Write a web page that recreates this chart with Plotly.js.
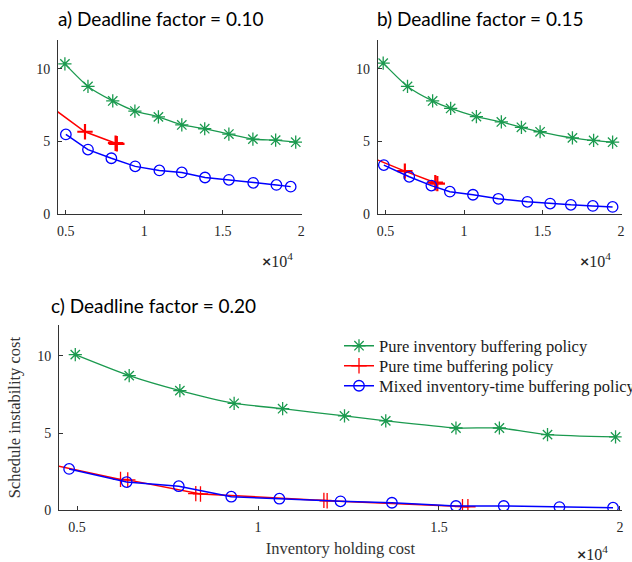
<!DOCTYPE html>
<html>
<head>
<meta charset="utf-8">
<script src="https://cdn.plot.ly/plotly-3.0.1.min.js"></script>
<style>html,body{margin:0;padding:0;background:#fff;}#chart{width:632px;height:562px;}</style>
</head>
<body>
<div id="chart"></div>
<script>
// ---- data (inventory holding cost on x, schedule instability cost on y) ----
const seriesNames = ['Pure inventory buffering policy', 'Pure time buffering policy', 'Mixed inventory-time buffering policy'];
const panelTitles = ['a) Deadline factor = 0.10', 'b) Deadline factor = 0.15', 'c) Deadline factor = 0.20'];
const xTickVals = [5000, 10000, 15000, 20000];
const xTickText = ['0.5', '1', '1.5', '2'];
const yTickVals = [0, 5, 10];

// panel a (deadline factor 0.10)
const aInvX = [4940, 6410, 7990, 9400, 10900, 12390, 13850, 15390, 16920, 18370, 19650];
const aInvY = [10.35, 8.79, 7.79, 7.09, 6.69, 6.13, 5.87, 5.50, 5.15, 5.08, 4.94];
const aTimeX = [4000, 6220, 8170, 8250];
const aTimeY = [7.42, 5.66, 4.87, 4.83];
const aMixX = [5000, 6410, 7900, 9420, 10960, 12390, 13870, 15390, 16940, 18420, 19330];
const aMixY = [5.48, 4.43, 3.83, 3.27, 2.99, 2.85, 2.50, 2.34, 2.13, 1.99, 1.87];

// panel b (deadline factor 0.15)
const bInvX = [4850, 6400, 8000, 9150, 10790, 12380, 13660, 14850, 16910, 18260, 19470];
const bInvY = [10.40, 8.79, 7.79, 7.27, 6.71, 6.34, 5.97, 5.66, 5.24, 5.06, 4.94];
const bTimeX = [4000, 6230, 8170, 8300];
const bTimeY = [3.93, 2.94, 2.14, 2.08];
const bMixX = [4890, 6510, 7920, 9100, 10570, 12190, 14040, 15490, 16810, 18210, 19470];
const bMixY = [3.36, 2.55, 1.94, 1.52, 1.31, 1.03, 0.82, 0.70, 0.61, 0.54, 0.47];

// panel c (deadline factor 0.20)
const cInvX = [4950, 6440, 7840, 9340, 10680, 12390, 13530, 15470, 16670, 18000, 19880];
const cInvY = [10.08, 8.72, 7.75, 6.93, 6.58, 6.11, 5.79, 5.33, 5.33, 4.90, 4.75];
const cTimeX = [4000, 6200, 6400, 8280, 8410, 11820, 11910, 15650, 15800];
const cTimeY = [3.10, 2.00, 1.97, 1.08, 1.06, 0.64, 0.62, 0.24, 0.23];
const cMixX = [4780, 6370, 7810, 9260, 10590, 12280, 13700, 15470, 16790, 18330, 19810];
const cMixY = [2.68, 1.83, 1.56, 0.88, 0.75, 0.58, 0.49, 0.28, 0.28, 0.21, 0.17];

// ---- styles ----
const GREEN = '#1b9a4f', RED = '#ff0000', BLUE = '#0000ff';
const serif = 'Liberation Serif, Times New Roman, serif';
const sans = 'Lato, Noto Sans, sans-serif';

function inv(x, y, xa, ya, legend) {
  return {x, y, xaxis: xa, yaxis: ya, type: 'scatter', mode: 'lines+markers', name: seriesNames[0],
    showlegend: !!legend, legend: legend || 'legend', line: {color: GREEN, width: 1.3, shape: 'spline', smoothing: 0.6},
    marker: {symbol: 'asterisk-open', size: 11, color: GREEN, line: {color: GREEN, width: 1.3}}};
}
function tim(x, y, xa, ya, legend) {
  return {x, y, xaxis: xa, yaxis: ya, type: 'scatter', mode: 'lines+markers', name: seriesNames[1],
    showlegend: !!legend, legend: legend || 'legend', line: {color: RED, width: 1.5},
    marker: {symbol: 'cross-thin-open', size: 11, color: RED, line: {color: RED, width: legend ? 1.3 : 2.2}}};
}
function mix(x, y, xa, ya, legend) {
  return {x, y, xaxis: xa, yaxis: ya, type: 'scatter', mode: 'lines+markers', name: seriesNames[2],
    showlegend: !!legend, legend: legend || 'legend', line: {color: BLUE, width: 1.5},
    marker: {symbol: 'circle-open', size: 10.5, color: BLUE, line: {color: BLUE, width: 1.3}}};
}

const data = [
  inv(aInvX, aInvY, 'x', 'y'), tim(aTimeX, aTimeY, 'x', 'y'), mix(aMixX, aMixY, 'x', 'y'),
  inv(bInvX, bInvY, 'x2', 'y2'), tim(bTimeX, bTimeY, 'x2', 'y2'), mix(bMixX, bMixY, 'x2', 'y2'),
  inv(cInvX, cInvY, 'x3', 'y3', 'legend'), tim(cTimeX, cTimeY, 'x3', 'y3', 'legend2'), mix(cMixX, cMixY, 'x3', 'y3', 'legend3')
];

const W = 632, H = 562;
const tickFont = {family: serif, size: 14, color: '#262626'};
function xAxis(dom, anchor, extra) {
  return Object.assign({domain: dom, anchor, range: [4500, 20050], tickvals: xTickVals, ticktext: xTickText,
    ticks: 'inside', ticklen: 4, tickcolor: '#333', showline: true, linecolor: '#333', linewidth: 1,
    showgrid: false, zeroline: false, fixedrange: true, ticklabelstandoff: 4, tickfont: tickFont}, extra || {});
}
function yAxis(dom, anchor, extra) {
  return Object.assign({domain: dom, anchor, range: [0, 12], tickvals: yTickVals,
    ticks: 'inside', ticklen: 4, tickcolor: '#333', showline: true, linecolor: '#333', linewidth: 1,
    showgrid: false, zeroline: false, fixedrange: true, ticklabelstandoff: 4, tickfont: tickFont}, extra || {});
}

const topDom = [1 - 213.7 / H, 1 - 40 / H];
const botDom = [1 - 510.3 / H, 1 - 325 / H];
const titleFont = {family: serif, size: 16.5, color: '#333'};
function leg(yc) {
  return {x: 339 / W, y: 1 - yc / H, xanchor: 'left', yanchor: 'middle', bgcolor: 'rgba(0,0,0,0)',
    font: {family: serif, size: 16.5, color: '#1a1a1a'}, itemclick: false, borderwidth: 0};
}
const tenFour = '<span style="font-family:Lato;font-weight:bold">×</span>10<sup>4</sup>';

const layout = {
  width: W, height: H,
  margin: {l: 0, r: 0, t: 0, b: 0, autoexpand: false},
  paper_bgcolor: '#fff', plot_bgcolor: '#fff',
  xaxis: xAxis([58 / W, 302 / W], 'y'),
  yaxis: yAxis(topDom, 'x'),
  xaxis2: xAxis([377.7 / W, 621.7 / W], 'y2'),
  yaxis2: yAxis(topDom, 'x2'),
  xaxis3: xAxis([59 / W, 621.7 / W], 'y3', {title: {text: 'Inventory holding cost', font: titleFont, standoff: 8}}),
  yaxis3: yAxis(botDom, 'x3', {title: {text: 'Schedule instability cost', font: titleFont, standoff: 12}}),
  showlegend: true,
  legend: leg(346), legend2: leg(366), legend3: leg(386),
  annotations: [
    {text: panelTitles[0], xref: 'paper', yref: 'paper', x: 56 / W, y: 1 - 18 / H, xanchor: 'left', yanchor: 'middle', showarrow: false, font: {family: sans, size: 19, color: '#000'}},
    {text: panelTitles[1], xref: 'paper', yref: 'paper', x: 375 / W, y: 1 - 18 / H, xanchor: 'left', yanchor: 'middle', showarrow: false, font: {family: sans, size: 19, color: '#000'}},
    {text: panelTitles[2], xref: 'paper', yref: 'paper', x: 49 / W, y: 1 - 305 / H, xanchor: 'left', yanchor: 'middle', showarrow: false, font: {family: sans, size: 19, color: '#000'}},
    {text: tenFour, xref: 'paper', yref: 'paper', x: 260 / W, y: 1 - 260 / H, xanchor: 'left', yanchor: 'middle', showarrow: false, font: {family: serif, size: 16, color: '#262626'}},
    {text: tenFour, xref: 'paper', yref: 'paper', x: 578 / W, y: 1 - 260 / H, xanchor: 'left', yanchor: 'middle', showarrow: false, font: {family: serif, size: 16, color: '#262626'}},
    {text: tenFour, xref: 'paper', yref: 'paper', x: 575 / W, y: 1 - 553 / H, xanchor: 'left', yanchor: 'middle', showarrow: false, font: {family: serif, size: 16, color: '#262626'}}
  ]
};

Plotly.newPlot('chart', data, layout, {displayModeBar: false, staticPlot: true});
</script>
</body>
</html>
